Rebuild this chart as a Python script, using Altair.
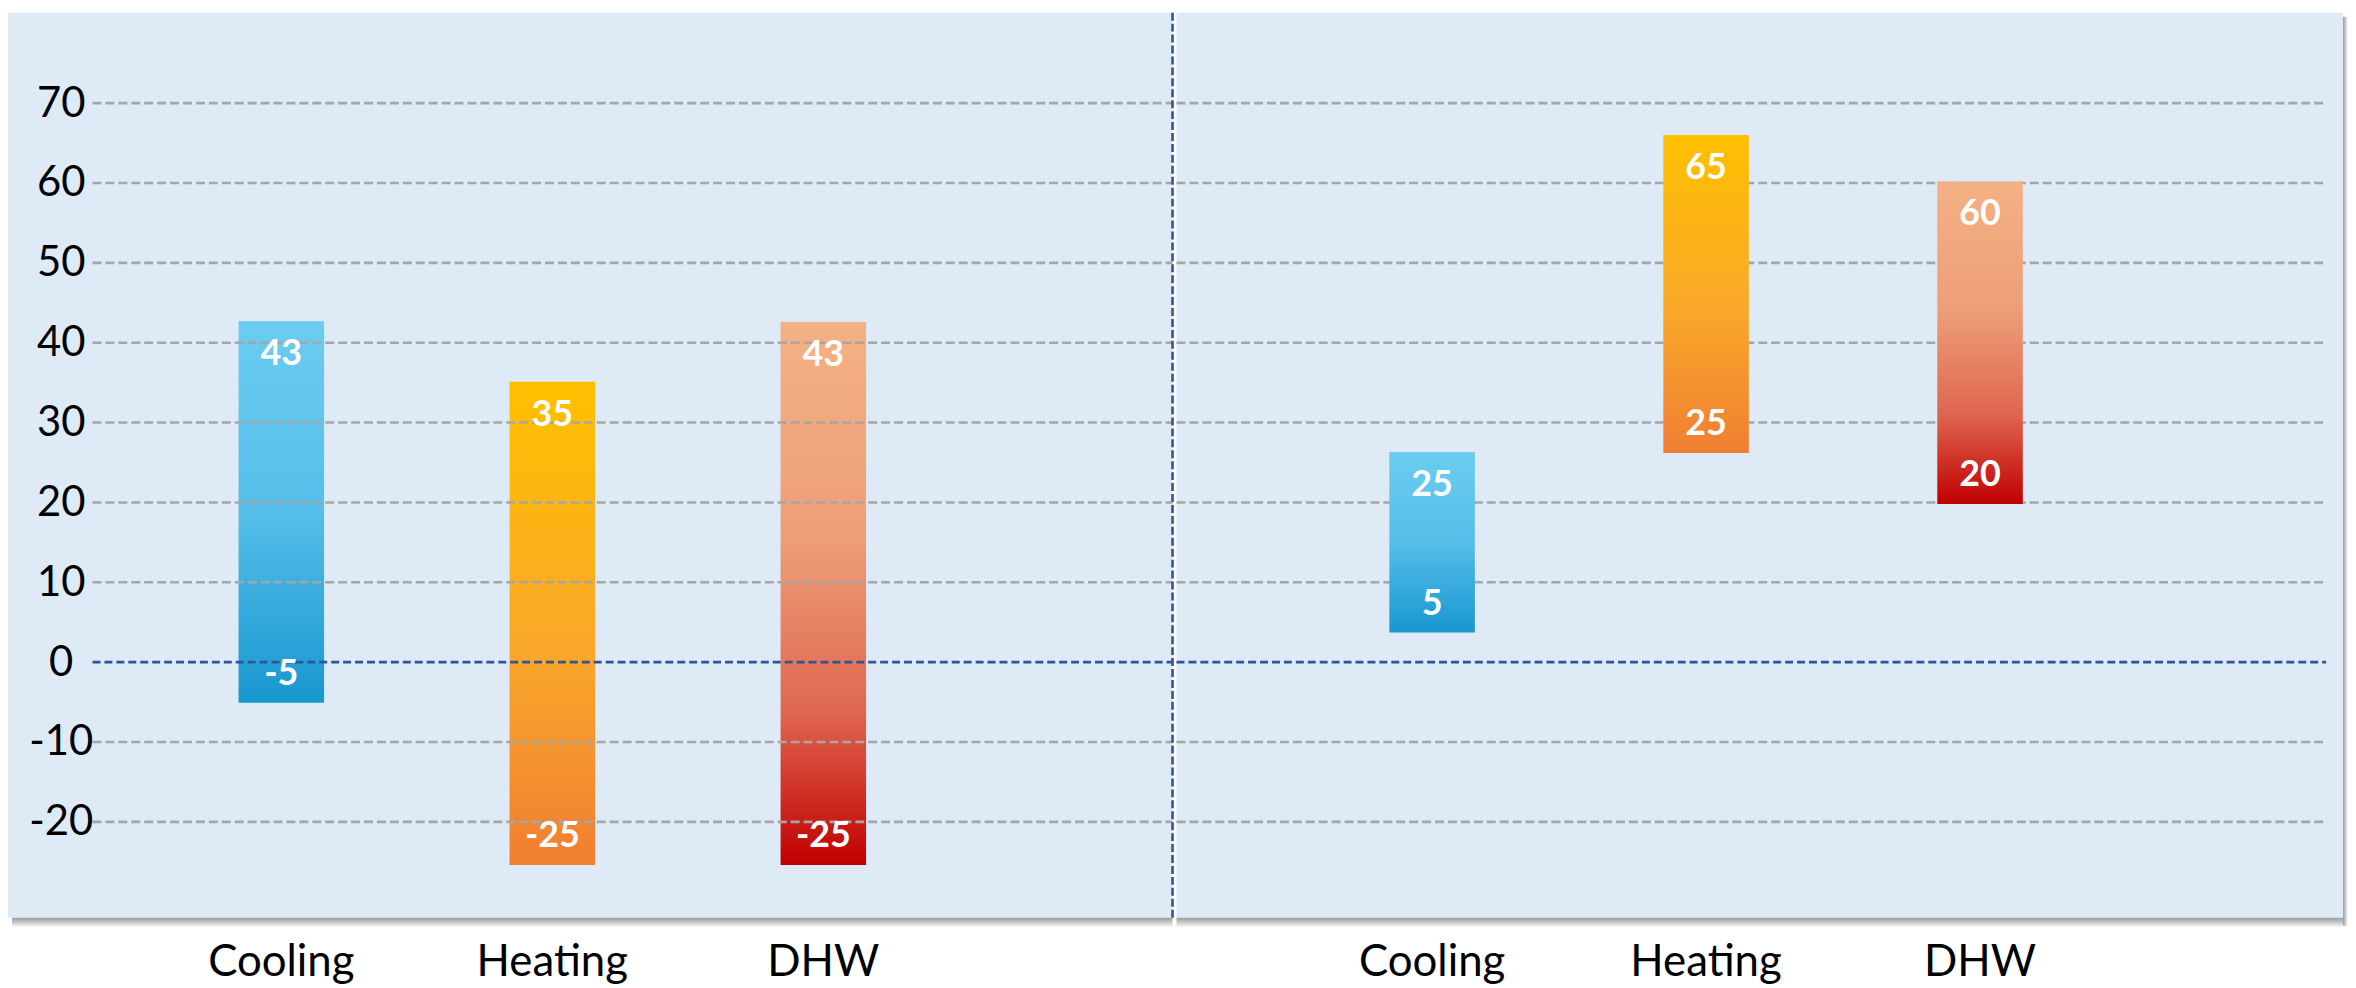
import altair as alt
import pandas as pd

# ---------------- data ----------------
categories = ["Cooling", "Heating", "DHW"]

left_low = [-5.1, -25.4, -25.4]
left_high = [42.7, 35.1, 42.6]
left_low_labels = ["-5", "-25", "-25"]
left_high_labels = ["43", "35", "43"]

right_low = [3.7, 26.2, 19.8]
right_high = [26.3, 66.0, 60.2]
right_low_labels = ["5", "25", "20"]
right_high_labels = ["25", "65", "60"]

grid_values = [-20, -10, 10, 20, 30, 40, 50, 60, 70]
zero_value = [0]
y_tick_values = [-20, -10, 0, 10, 20, 30, 40, 50, 60, 70]

# ---------------- style ----------------
W_L, W_R, H = 1171, 1173, 910
BG = "#DEEAF6"
FONT = "Lato"
GRID_COLOR = "#A6A6A6"
ZERO_COLOR = "#2F5597"

gradients = {
    "Cooling": [("#6CCCF0", 0), ("#55BEE9", 0.5), ("#1997D0", 1)],
    "Heating": [("#FFC000", 0), ("#F9A82A", 0.55), ("#F07E32", 1)],
    "DHW": [("#F4B183", 0), ("#EE9E77", 0.4), ("#DF6650", 0.72), ("#C00000", 1)],
}


def grad(stops, horizontal=False):
    return alt.Gradient(
        gradient="linear",
        stops=[alt.GradientStop(color=c, offset=o) for c, o in stops],
        x1=0, x2=1 if horizontal else 0, y1=0, y2=0 if horizontal else 1,
    )


yscale = alt.Scale(domain=[-32.0, 81.33], nice=False, zero=False)

y_axis_left = alt.Axis(
    values=y_tick_values, title=None, grid=False, domain=False, ticks=False,
    tickSize=0, labelPadding=0, offset=-53, labelAlign="center",
    labelExpr="'' + datum.value",
    labelFont=FONT, labelFontSize=42, labelColor="#000000",
)

x_axis = alt.Axis(
    title=None, domain=False, ticks=False, tickSize=0, labelAngle=0,
    labelPadding=23, labelFont=FONT, labelFontSize=44, labelColor="#000000",
    grid=False,
)

SHADOW = [("#9A9A9A", 0), ("#FFFFFF", 1)]


def panel(low, high, low_labels, high_labels, width, p_inner, align, y_axis,
          grid_x0, grid_x1, gridlines_on_top, divider, right_shadow):
    df = pd.DataFrame({
        "category": categories,
        "low": low,
        "high": high,
        "low_label": low_labels,
        "high_label": high_labels,
    })
    base = alt.Chart(df)
    xenc = alt.X("category:N",
                 scale=alt.Scale(type="band", domain=categories,
                                 paddingInner=p_inner, paddingOuter=1,
                                 align=align),
                 axis=x_axis)

    bars = []
    for cat in categories:
        bars.append(
            base.transform_filter(alt.datum.category == cat)
            .mark_bar(size=86, color=grad(gradients[cat]))
            .encode(x=xenc,
                    y=alt.Y("low:Q", scale=yscale, axis=y_axis),
                    y2="high:Q")
        )

    top_text = base.mark_text(
        font=FONT, fontSize=36, fontWeight="bold", color="white",
        baseline="middle", dy=33,
    ).encode(x=xenc, y=alt.Y("high:Q", scale=yscale, axis=y_axis),
             text="high_label:N")
    bottom_text = base.mark_text(
        font=FONT, fontSize=36, fontWeight="bold", color="white",
        baseline="middle", dy=-29,
    ).encode(x=xenc, y=alt.Y("low:Q", scale=yscale, axis=y_axis),
             text="low_label:N")

    grid = alt.Chart(pd.DataFrame({"v": grid_values})).mark_rule(
        color=GRID_COLOR, strokeWidth=2.6, strokeDash=[9, 4]
    ).encode(y=alt.Y("v:Q", scale=yscale, axis=y_axis),
             x=alt.value(grid_x0), x2=alt.value(grid_x1))

    zero = alt.Chart(pd.DataFrame({"v": zero_value})).mark_rule(
        color=ZERO_COLOR, strokeWidth=2.6, strokeDash=[8, 4]
    ).encode(y=alt.Y("v:Q", scale=yscale, axis=y_axis),
             x=alt.value(grid_x0), x2=alt.value(grid_x1))

    one = pd.DataFrame({"k": [0]})
    shadow_bottom = alt.Chart(one).mark_rect(color=grad(SHADOW)).encode(
        x=alt.value(0 if right_shadow else 4),
        x2=alt.value(width + (5 if right_shadow else 0)),
        y=alt.value(H), y2=alt.value(H + 10))

    layers = []
    if gridlines_on_top:
        layers += bars + [grid, zero, top_text, bottom_text]
    else:
        layers += [grid, zero] + bars + [top_text, bottom_text]
    layers.append(shadow_bottom)

    if divider:
        layers.append(
            alt.Chart(one).mark_rule(
                color=ZERO_COLOR, strokeWidth=2.6, strokeDash=[8, 3]
            ).encode(x=alt.value(width), y=alt.value(0), y2=alt.value(H))
        )
    if right_shadow:
        layers.append(
            alt.Chart(one).mark_rect(color=grad(SHADOW, horizontal=True)).encode(
                x=alt.value(width), x2=alt.value(width + 5),
                y=alt.value(4), y2=alt.value(H + 8))
        )

    return alt.layer(*layers).properties(
        width=width, height=H,
        view=alt.ViewBackground(fill=BG, stroke="transparent", strokeWidth=0),
    )


left = panel(left_low, left_high, left_low_labels, left_high_labels,
             W_L, 0.703, 0.430, y_axis_left, 85, W_L, True, True, False)
right = panel(right_low, right_high, right_low_labels, right_high_labels,
              W_R, 0.742, 0.402, None, 0, 1156, False, False, True)

chart = (
    alt.hconcat(left, right, spacing=0)
    .resolve_scale(x="independent")
    .properties(padding=0)
    .configure_view(fill=BG, stroke="transparent", strokeWidth=0)
    .configure(background="white")
)

chart.save("out.html", embed_options={"renderer": "svg", "actions": False})
